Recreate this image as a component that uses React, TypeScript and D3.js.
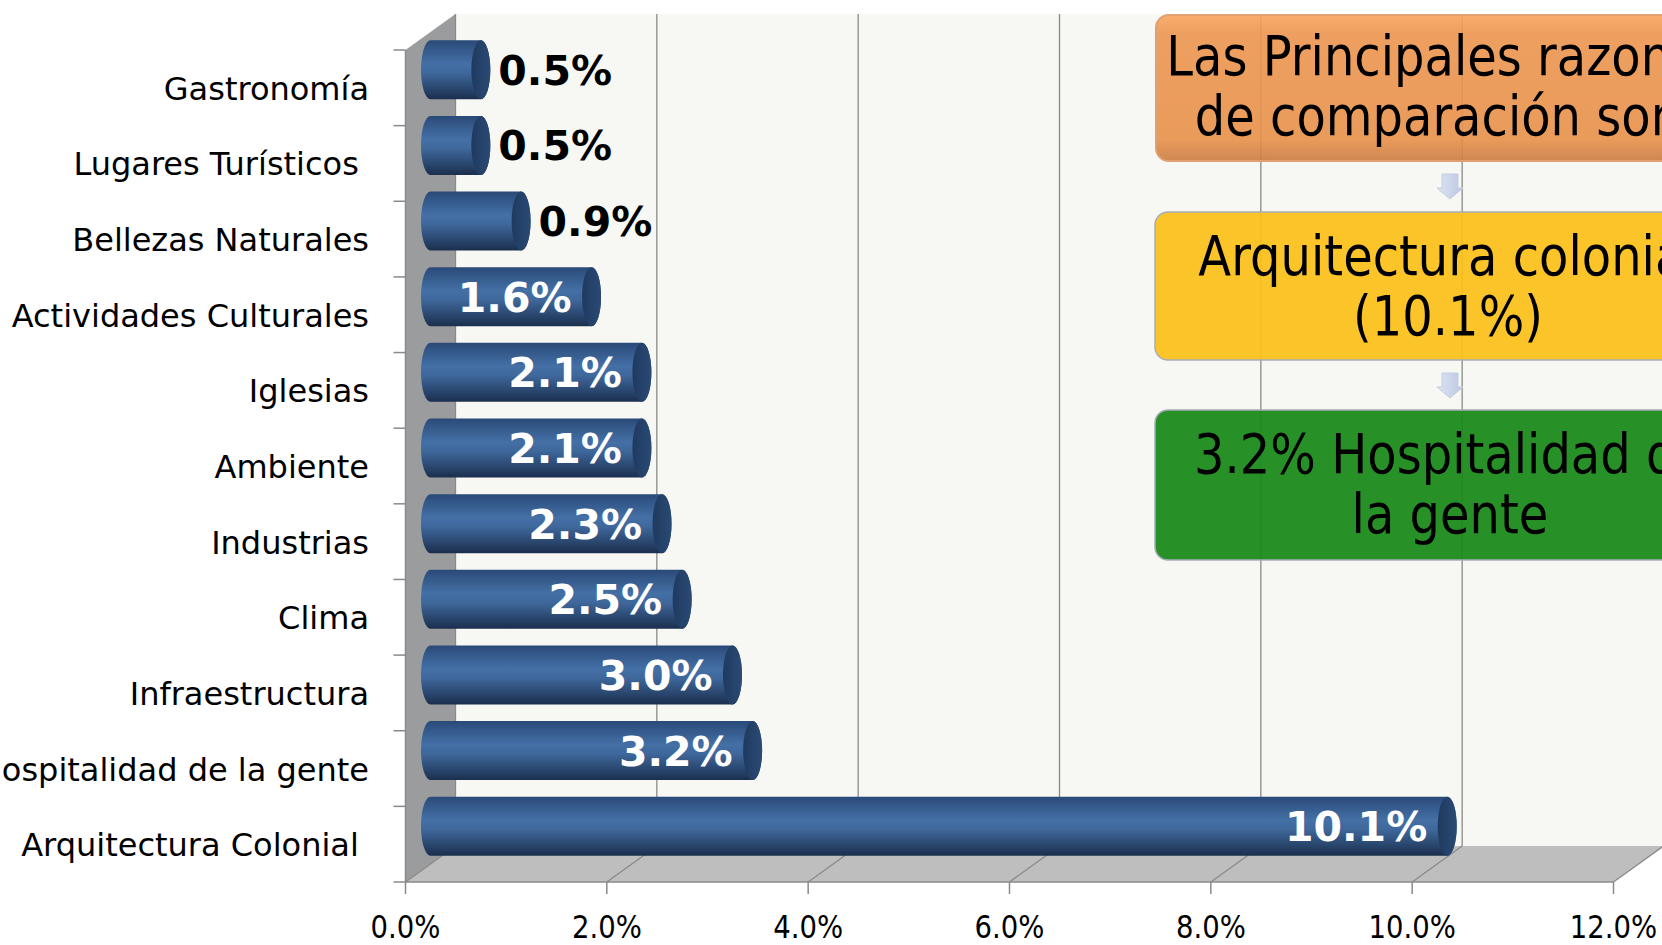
import * as d3 from "d3";

// categorias (de arriba hacia abajo) y porcentajes
const categories = [
  "Gastronomía",
  "Lugares Turísticos ",
  "Bellezas Naturales",
  "Actividades Culturales",
  "Iglesias",
  "Ambiente",
  "Industrias",
  "Clima",
  "Infraestructura",
  "Hospitalidad de la gente",
  "Arquitectura Colonial ",
];
const values = [0.5, 0.5, 0.9, 1.6, 2.1, 2.1, 2.3, 2.5, 3.0, 3.2, 10.1];
const xTicks = [0, 2, 4, 6, 8, 10, 12];

// textos de los cuadros de la derecha
const box1Lines = ["Las Principales razones", "de comparación son:"];
const box2Lines = ["Arquitectura colonial", "(10.1%)"];
const box3Lines = ["3.2% Hospitalidad de", "la gente"];

const W = 1662;
const H = 945;
const font = "'DejaVu Sans', Verdana, sans-serif";

const App = () => {
  const front = { left: 405.5, right: 1613.5, top: 50, bottom: 882 };
  const depth = { dx: 50, dy: -36 };

  const x = d3.scaleLinear().domain([0, 12]).range([front.left, front.right]);
  const y = d3.scaleBand().domain(categories).range([front.top, front.bottom]);

  const barH = y.bandwidth() * 0.78;
  const rx = 9.5;
  const mid = { dx: depth.dx / 2, dy: depth.dy / 2 };
  const fmt = (v) => d3.format(".1f")(v) + "%";

  const backLeft = front.left + depth.dx;
  const backTop = front.top + depth.dy;
  const backBottom = front.bottom + depth.dy;

  // limites de categorias para los ticks del eje vertical
  const bounds = categories.map((c) => y(c)).concat([front.bottom]);

  const arrow = (cx, y0) => {
    const p = [
      [cx - 8, y0], [cx + 8, y0], [cx + 8, y0 + 14], [cx + 13, y0 + 14],
      [cx, y0 + 25], [cx - 13, y0 + 14], [cx - 8, y0 + 14],
    ];
    return "M" + p.map((d) => d.join(",")).join("L") + "Z";
  };

  const boxText = (lines, cx, base1) =>
    lines.map((t, i) => (
      <g key={i} transform={`translate(${cx},${base1 + i * 60}) scale(1,1.15)`}>
        <text textAnchor="middle" fontFamily={font} fontSize={48} fill="#000">{t}</text>
      </g>
    ));

  return (
    <svg width={W} height={H} style={{ position: "absolute", left: 0, top: 0, background: "#fff" }}>
      <defs>
        <linearGradient id="barGrad" x1="0" y1="0" x2="0" y2="1">
          <stop offset="0%" stopColor="#2a4a78" />
          <stop offset="40%" stopColor="#4470a6" />
          <stop offset="55%" stopColor="#3f689c" />
          <stop offset="100%" stopColor="#1b2f4e" />
        </linearGradient>
        <linearGradient id="capGrad" x1="0" y1="0" x2="1" y2="0">
          <stop offset="0%" stopColor="#1f3a60" />
          <stop offset="100%" stopColor="#2a4a74" />
        </linearGradient>
        <linearGradient id="orangeGrad" x1="0" y1="0" x2="0" y2="1">
          <stop offset="0%" stopColor="#f9a55c" />
          <stop offset="12%" stopColor="#ed9650" />
          <stop offset="85%" stopColor="#e8914a" />
          <stop offset="100%" stopColor="#c97c40" />
        </linearGradient>
        <linearGradient id="arrowGrad" x1="0" y1="0" x2="1" y2="0">
          <stop offset="0%" stopColor="#dfe6f4" />
          <stop offset="100%" stopColor="#b9c6e0" />
        </linearGradient>
      </defs>

      {/* pared del fondo */}
      <rect x={backLeft} y={backTop} width={W - backLeft} height={backBottom - backTop} fill="#f7f8f3" />
      {/* pared lateral */}
      <path
        d={`M${front.left},${front.top}L${backLeft},${backTop}L${backLeft},${backBottom}L${front.left},${front.bottom}Z`}
        fill="#9b9c9e"
      />
      {/* piso */}
      <path
        d={`M${front.left},${front.bottom}L${front.right},${front.bottom}L${front.right + depth.dx},${backBottom}L${backLeft},${backBottom}Z`}
        fill="#bebebe"
      />

      {/* rejilla */}
      {xTicks.map((t) => (
        <g key={t}>
          <line x1={x(t) + depth.dx} x2={x(t) + depth.dx} y1={backTop} y2={backBottom} stroke="#8a8a8a" strokeWidth={1.3} />
          <line x1={x(t)} y1={front.bottom} x2={x(t) + depth.dx} y2={backBottom} stroke="#8a8a8a" strokeWidth={1.3} />
        </g>
      ))}

      {/* ejes */}
      <line x1={front.left} x2={front.left} y1={front.top} y2={front.bottom} stroke="#8a8a8a" strokeWidth={1.5} />
      <line x1={front.left} x2={front.right} y1={front.bottom} y2={front.bottom} stroke="#8a8a8a" strokeWidth={1.5} />
      {bounds.map((b, i) => (
        <line key={i} x1={front.left - 12} x2={front.left} y1={b} y2={b} stroke="#8a8a8a" strokeWidth={1.5} />
      ))}
      {xTicks.map((t) => (
        <line key={t} x1={x(t)} x2={x(t)} y1={front.bottom} y2={front.bottom + 12} stroke="#8a8a8a" strokeWidth={1.5} />
      ))}

      {/* etiquetas eje X */}
      {xTicks.map((t) => (
        <g key={t} transform={`translate(${x(t)},${front.bottom + 56}) scale(1,1.15)`}>
          <text textAnchor="middle" fontFamily={font} fontSize={27.5} fill="#000">{fmt(t)}</text>
        </g>
      ))}

      {/* etiquetas de categorias */}
      {categories.map((c) => (
        <text
          key={c}
          x={369}
          y={y(c) + y.bandwidth() / 2 + 12}
          textAnchor="end"
          fontFamily={font}
          fontSize={32}
          fill="#000"
          style={{ whiteSpace: "pre" }}
        >
          {c}
        </text>
      ))}

      {/* barras cilindricas */}
      {categories.map((c, i) => {
        const cy = y(c) + y.bandwidth() / 2 + mid.dy;
        const x0 = x(0) + mid.dx;
        const x1 = x(values[i]) + mid.dx;
        const top = cy - barH / 2;
        const bot = cy + barH / 2;
        const body = `M${x0},${top}L${x1},${top}A${rx},${barH / 2} 0 0 1 ${x1},${bot}L${x0},${bot}A${rx},${barH / 2} 0 0 1 ${x0},${top}Z`;
        const outside = values[i] < 1;
        return (
          <g key={c}>
            <path d={body} fill="url(#barGrad)" />
            <ellipse cx={x1} cy={cy} rx={rx} ry={barH / 2} fill="url(#capGrad)" />
            <text
              x={outside ? x1 + rx + 8 : x1 - 20}
              y={cy + 15}
              textAnchor={outside ? "start" : "end"}
              fontFamily={font}
              fontWeight="bold"
              fontSize={41}
              fill={outside ? "#000" : "#fff"}
            >
              {fmt(values[i])}
            </text>
          </g>
        );
      })}

      {/* cuadros de texto */}
      <rect x={1156} y={15} width={580} height={146} rx={13} fill="url(#orangeGrad)" fillOpacity={0.9} stroke="#e0a070" strokeWidth={2} />
      {boxText(box1Lines, 1446, 75)}
      <path d={arrow(1450, 174)} fill="url(#arrowGrad)" stroke="#c3cde2" strokeWidth={1} />
      <rect x={1155} y={212} width={580} height={148} rx={13} fill="#fbc11a" fillOpacity={0.93} stroke="#a7adb8" strokeWidth={1.5} />
      {boxText(box2Lines, 1448, 275)}
      <path d={arrow(1450, 373)} fill="url(#arrowGrad)" stroke="#c3cde2" strokeWidth={1} />
      <rect x={1155} y={410} width={580} height={150} rx={13} fill="#198a19" fillOpacity={0.94} stroke="#a7adb8" strokeWidth={1.5} />
      {boxText(box3Lines, 1450, 473)}
    </svg>
  );
};

export default App;
